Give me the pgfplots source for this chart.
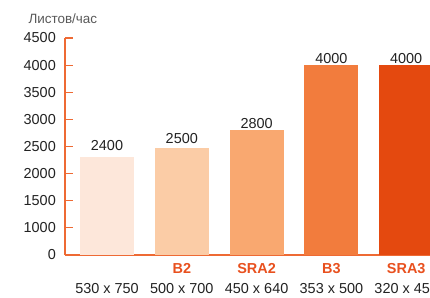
\documentclass[border=0pt]{standalone}
\usepackage{fontspec}
\setmainfont{Liberation Sans}
\usepackage{pgfplots}
\pgfplotsset{compat=1.18}
\definecolor{axisor}{HTML}{EE6A34}
\definecolor{c1}{HTML}{FDE7DA}
\definecolor{c2}{HTML}{FBCCA6}
\definecolor{c3}{HTML}{F9A870}
\definecolor{c4}{HTML}{F27C3D}
\definecolor{c5}{HTML}{E4490F}
\definecolor{lab}{HTML}{E8501E}
\definecolor{txt}{HTML}{222222}
\begin{document}
\begin{tikzpicture}
\begin{axis}[name=ax,
 scale only axis, width=365bp, height=217bp,
 xmin=-0.5615, xmax=4.318, ymin=500, ymax=4500,
 axis lines=left, axis line style={-, draw=axisor, line width=1.3bp},
 ybar, bar width=54bp, bar shift=0pt,
 ytick={500,1000,...,4500},
 yticklabels={0,1000,1500,2000,2500,3000,3500,4000,4500},
 ytick style={draw=axisor, line width=1.2bp}, major tick length=8bp, tick align=inside,
 xtick={0,1,2,3,4}, xtick style={draw=none},
 xticklabels={{\phantom{\bfseries B}\\530 x 750},{\textcolor{lab}{\bfseries B2}\\500 x 700},{\textcolor{lab}{\bfseries SRA2}\\450 x 640},{\textcolor{lab}{\bfseries B3}\\353 x 500},{\textcolor{lab}{\bfseries SRA3}\\320 x 450}},
 xticklabel style={align=center, font=\fontsize{14.5}{20}\selectfont, text=txt, anchor=north, yshift=-5bp},
 /pgf/number format/assume math mode=true,
 yticklabel style={font=\fontsize{14.5}{17}\selectfont, text=txt, inner sep=0pt, xshift=-9bp},
 nodes near coords, point meta=explicit symbolic,
 every node near coord/.append style={font=\fontsize{14.5}{17}\selectfont, text=txt, inner sep=1bp},
]
\addplot[fill=c1, draw=none, every node near coord/.append style={yshift=5.5bp}] coordinates {(0,2300) [2400]};
\addplot[fill=c2, draw=none, every node near coord/.append style={yshift=3bp}] coordinates {(1,2480) [2500]};
\addplot[fill=c3, draw=none] coordinates {(2,2800) [2800]};
\addplot[fill=c4, draw=none] coordinates {(3,4000) [4000]};
\addplot[fill=c5, draw=none] coordinates {(4,4000) [4000]};
\end{axis}
\node[anchor=west, font=\fontsize{13.5}{16}\selectfont, text=black!65] at ([shift={(-40bp,19bp)}]ax.north west) {Листов/час};
\pgfresetboundingbox
\path ([shift={(-65bp,-43bp)}]ax.south west) rectangle ([shift={(0bp,38bp)}]ax.north east);
\end{tikzpicture}
\end{document}
